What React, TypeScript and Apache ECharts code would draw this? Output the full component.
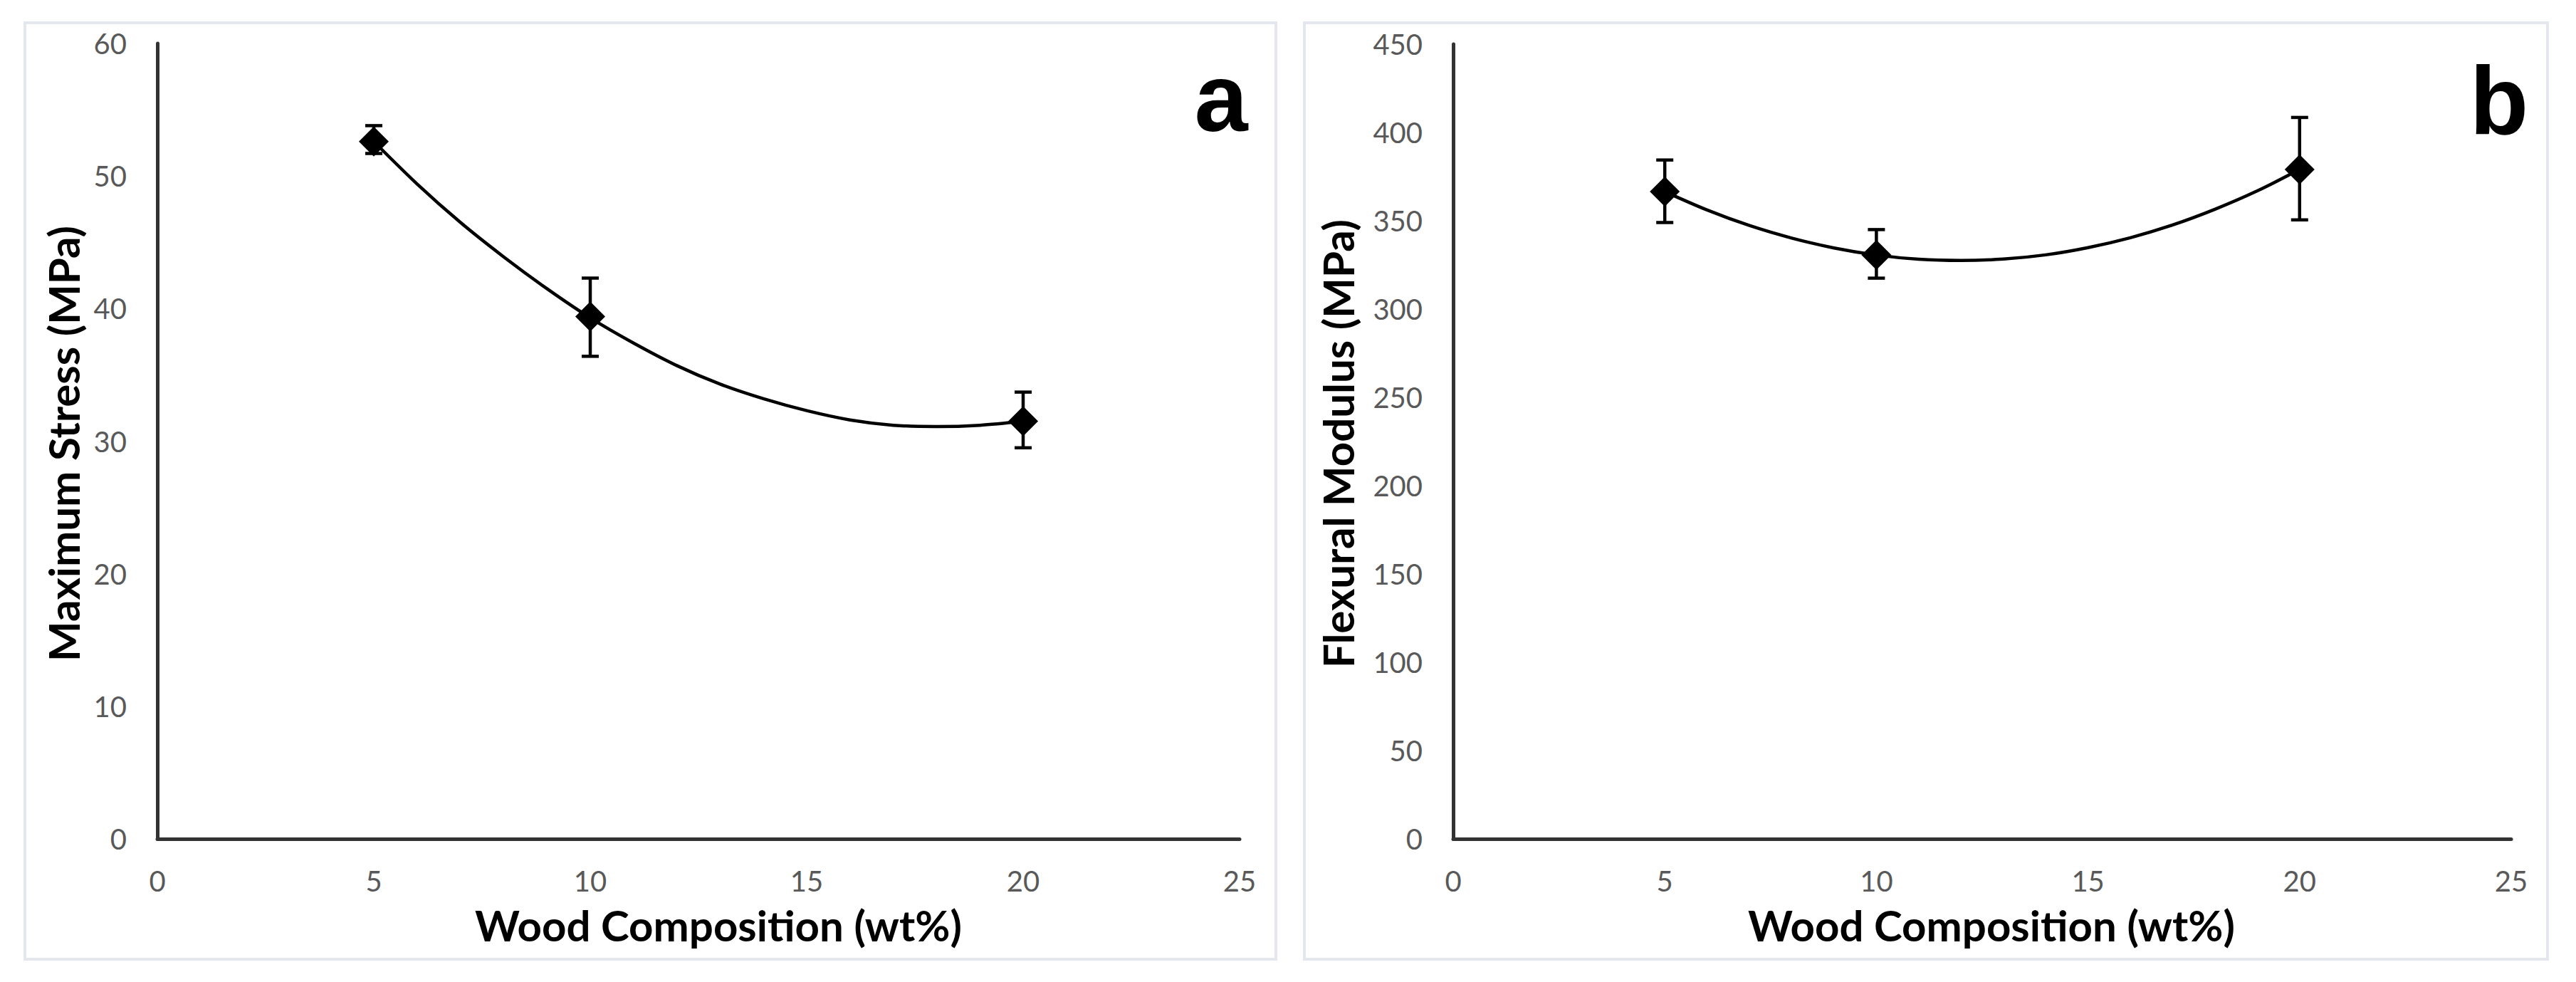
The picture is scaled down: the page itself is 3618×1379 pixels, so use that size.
import React, { useEffect, useRef } from "react";
import * as echarts from "echarts";

// ---- data ----
const woodX = [5, 10, 20];

// panel a: Maximum Stress (MPa)
const stressMean = [52.6, 39.4, 31.5];
const stressLow = [51.7, 36.4, 29.5];
const stressHigh = [53.8, 42.3, 33.7];
// trendline
const stressTrendX = [5, 6, 7, 8, 9, 10, 11, 12, 13, 14, 15, 16, 17, 18, 19, 20];
const stressTrendY = [52.6, 49.4, 46.5, 43.9, 41.5, 39.3, 37.4, 35.7, 34.3, 33.2, 32.3, 31.6, 31.2, 31.1, 31.2, 31.5];

// panel b: Flexural Modulus (MPa)
const modMean = [366.5, 330.6, 379];
const modLow = [349, 317.5, 350.5];
const modHigh = [384.4, 345, 408.5];
const modTrendX = [5, 6, 7, 8, 9, 10, 11, 12, 13, 14, 15, 16, 17, 18, 19, 20];
const modTrendY = [366.5, 356.1, 347.3, 340.2, 334.6, 330.6, 328.2, 327.5, 328.3, 330.7, 334.8, 340.4, 347.6, 356.5, 366.9, 379];

const xTicks = { min: 0, max: 25, interval: 5 };
const stressTicks = { min: 0, max: 60, interval: 10 };
const modTicks = { min: 0, max: 450, interval: 50 };

const xTitle = "Wood Composition (wt%)";
const yTitleA = "Maximum Stress (MPa)";
const yTitleB = "Flexural Modulus (MPa)";
const panelLetters = ["a", "b"];

const TICK_FONT = "Lato";
const TITLE_FONT = "Lato";

function makeAxisX(gridIndex: number) {
  return {
    type: "value",
    gridIndex,
    min: xTicks.min,
    max: xTicks.max,
    interval: xTicks.interval,
    axisLine: { show: true, lineStyle: { color: "#333333", width: 5 } },
    axisTick: { show: false },
    splitLine: { show: false },
    axisLabel: { color: "#595959", fontFamily: TICK_FONT, fontSize: 40, margin: 39 },
  };
}

function makeAxisY(gridIndex: number, t: { min: number; max: number; interval: number }) {
  return {
    type: "value",
    gridIndex,
    min: t.min,
    max: t.max,
    interval: t.interval,
    axisLine: { show: true, lineStyle: { color: "#333333", width: 5 } },
    axisTick: { show: false },
    splitLine: { show: false },
    axisLabel: { color: "#595959", fontFamily: TICK_FONT, fontSize: 40, margin: 43 },
  };
}

function errorSeries(idx: number, lows: number[], highs: number[]) {
  return {
    type: "custom",
    xAxisIndex: idx,
    yAxisIndex: idx,
    z: 3,
    silent: true,
    data: woodX.map((x, i) => [x, lows[i], highs[i]]),
    renderItem: (_params: any, api: any) => {
      const x = api.value(0);
      const top = api.coord([x, api.value(2)]);
      const bot = api.coord([x, api.value(1)]);
      const w = 12;
      const st = { stroke: "#000", lineWidth: 4.5 };
      return {
        type: "group",
        children: [
          { type: "line", shape: { x1: top[0], y1: top[1], x2: bot[0], y2: bot[1] }, style: st },
          { type: "line", shape: { x1: top[0] - w, y1: top[1], x2: top[0] + w, y2: top[1] }, style: st },
          { type: "line", shape: { x1: bot[0] - w, y1: bot[1], x2: bot[0] + w, y2: bot[1] }, style: st },
        ],
      };
    },
  };
}

function trendSeries(idx: number, xs: number[], ys: number[]) {
  return {
    type: "line",
    xAxisIndex: idx,
    yAxisIndex: idx,
    z: 2,
    smooth: 0.3,
    showSymbol: false,
    symbol: "none",
    silent: true,
    lineStyle: { color: "#000", width: 4.5 },
    data: xs.map((x, i) => [x, ys[i]]),
  };
}

function pointSeries(idx: number, ys: number[]) {
  return {
    type: "scatter",
    xAxisIndex: idx,
    yAxisIndex: idx,
    z: 4,
    symbol: "diamond",
    symbolSize: [42, 42],
    itemStyle: { color: "#000", opacity: 1 },
    data: woodX.map((x, i) => [x, ys[i]]),
  };
}

export default function App() {
  const ref = useRef<HTMLDivElement>(null);
  useEffect(() => {
    document.body.style.margin = "0";
    if (!ref.current) return;
    const chart = echarts.init(ref.current, undefined, { renderer: "svg" });
    const titleStyle = { fontFamily: TITLE_FONT, fontWeight: "bold", fontSize: 60, fill: "#000" };
    const letterStyle = { fontFamily: "Liberation Sans", fontWeight: "bold", fontSize: 135, fill: "#000" };
    chart.setOption({
      animation: false,
      backgroundColor: "#ffffff",
      grid: [
        { left: 221, top: 61, width: 1520, height: 1117 },
        { left: 2041, top: 62, width: 1486, height: 1116 },
      ],
      xAxis: [makeAxisX(0), makeAxisX(1)],
      yAxis: [makeAxisY(0, stressTicks), makeAxisY(1, modTicks)],
      graphic: [
        { type: "rect", shape: { x: 35, y: 32, width: 1757, height: 1315 }, style: { fill: "none", stroke: "#e4e8ee", lineWidth: 4 }, z: -1 },
        { type: "rect", shape: { x: 1832, y: 32, width: 1746, height: 1315 }, style: { fill: "none", stroke: "#e4e8ee", lineWidth: 4 }, z: -1 },
        { type: "text", x: 1009, y: 1299, style: { ...titleStyle, text: xTitle, textAlign: "center", textVerticalAlign: "middle" } },
        { type: "text", x: 2797, y: 1299, style: { ...titleStyle, text: xTitle, textAlign: "center", textVerticalAlign: "middle" } },
        { type: "text", x: 89, y: 623, rotation: Math.PI / 2, style: { ...titleStyle, text: yTitleA, textAlign: "center", textVerticalAlign: "middle" } },
        { type: "text", x: 1879, y: 623, rotation: Math.PI / 2, style: { ...titleStyle, text: yTitleB, textAlign: "center", textVerticalAlign: "middle" } },
        { type: "text", x: 1715, y: 137, style: { ...letterStyle, text: panelLetters[0], textAlign: "center", textVerticalAlign: "middle" } },
        { type: "text", x: 3510, y: 141, style: { ...letterStyle, text: panelLetters[1], textAlign: "center", textVerticalAlign: "middle" } },
      ],
      series: [
        trendSeries(0, stressTrendX, stressTrendY),
        errorSeries(0, stressLow, stressHigh),
        pointSeries(0, stressMean),
        trendSeries(1, modTrendX, modTrendY),
        errorSeries(1, modLow, modHigh),
        pointSeries(1, modMean),
      ],
    });
    return () => chart.dispose();
  }, []);
  return <div ref={ref} style={{ width: 3618, height: 1379 }} />;
}
